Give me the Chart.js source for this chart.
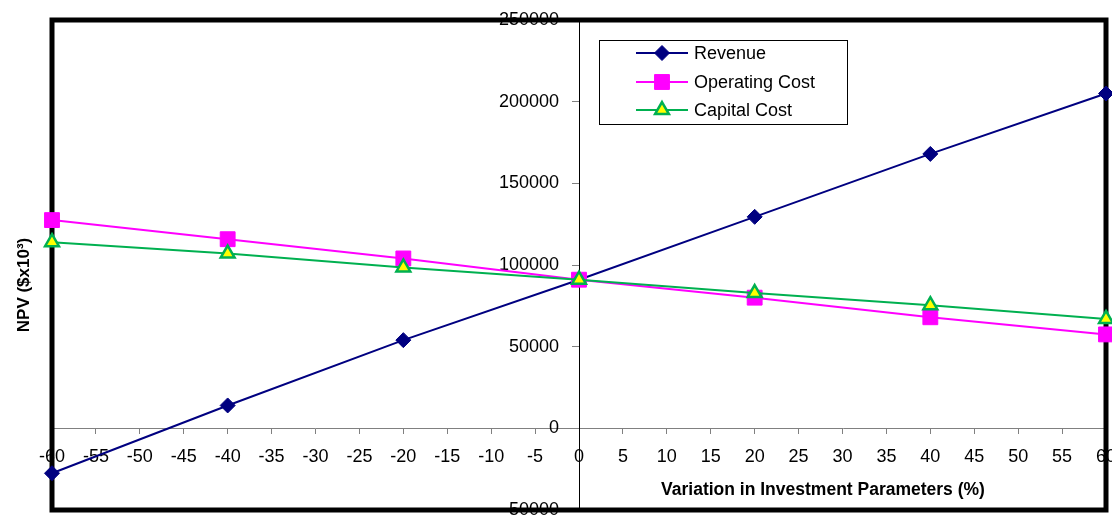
<!DOCTYPE html>
<html>
<head>
<meta charset="utf-8">
<script src="https://cdn.jsdelivr.net/npm/chart.js@4"></script>
<style>
  html, body { margin: 0; padding: 0; background: #fff; }
  #wrap { width: 1112px; height: 516px; }
</style>
</head>
<body>
<div id="wrap"><canvas id="npv"></canvas></div>
<script>
// variation in investment parameters (%)
var variation = [-60, -40, -20, 0, 20, 40, 60]
var revenue = [-27500, 14000, 54000, 91000, 129500, 168000, 205000]
var operating_cost = [127500, 115800, 104000, 91000, 80000, 68000, 57500]
var capital_cost = [114000, 107000, 98500, 91000, 82800, 75400, 67000]

var font_family = "'Liberation Sans', Arial, sans-serif"

function toPoints(values){
    return values.map((v, i) => ({x: variation[i], y: v}))
}

// thick frame round the plot area, under the markers
const framePlugin = {
    id: 'frame',
    beforeDraw(chart) {
        // y labels sit on the axis by default when the axis is positioned by value; push them left
        const items = chart.scales.y.getLabelItems()
        if (!items._shifted) {
            items.forEach(it => { it.options.translation[0] -= 20 })
            items._shifted = true
        }
    },
    beforeDatasetsDraw(chart) {
        const {ctx, chartArea: a} = chart
        ctx.save()
        ctx.strokeStyle = '#000'
        ctx.lineWidth = 5
        ctx.strokeRect(a.left, a.top, a.right - a.left, a.bottom - a.top)
        ctx.restore()
    }
}

// axis titles and the boxed legend
const labelsPlugin = {
    id: 'labels',
    afterDraw(chart) {
        const ctx = chart.ctx
        ctx.save()
        ctx.fillStyle = '#000'
        ctx.font = "bold 17.5px " + font_family
        ctx.textAlign = 'center'
        ctx.textBaseline = 'middle'
        ctx.fillText('Variation in Investment Parameters (%)', 823, 490)

        ctx.font = "bold 17px " + font_family
        ctx.translate(24, 285)
        ctx.rotate(-Math.PI / 2)
        ctx.fillText('NPV ($x10³)', 0, 0)
        ctx.restore()

        // legend
        ctx.save()
        ctx.fillStyle = '#fff'
        ctx.fillRect(599, 40, 248, 84)
        ctx.strokeStyle = '#000'
        ctx.lineWidth = 1
        ctx.strokeRect(599.5, 40.5, 248, 84)
        const rows = [53, 82, 110]
        chart.data.datasets.forEach((ds, i) => {
            const y = rows[i]
            ctx.strokeStyle = ds.borderColor
            ctx.lineWidth = 2
            ctx.beginPath()
            ctx.moveTo(636, y)
            ctx.lineTo(688, y)
            ctx.stroke()
            ctx.fillStyle = ds.pointBackgroundColor
            ctx.strokeStyle = ds.pointBorderColor
            ctx.lineWidth = ds.pointBorderWidth
            Chart.helpers.drawPoint(ctx, {pointStyle: ds.pointStyle, radius: ds.pointRadius, borderWidth: ds.pointBorderWidth}, 662, y)
            ctx.fillStyle = '#000'
            ctx.font = "18px " + font_family
            ctx.textAlign = 'left'
            ctx.textBaseline = 'middle'
            ctx.fillText(ds.label, 694, y + 1)
        })
        ctx.restore()
    }
}

new Chart(document.getElementById('npv').getContext('2d'), {
    type: 'scatter',
    data: {
        datasets: [{
            label: 'Revenue',
            data: toPoints(revenue),
            order: 2,
            showLine: true,
            borderColor: '#000080',
            borderWidth: 2,
            pointStyle: 'rectRot',
            pointRadius: 7.5,
            pointBackgroundColor: '#000080',
            pointBorderColor: '#000080',
            pointBorderWidth: 1,
            clip: false
        }, {
            label: 'Operating Cost',
            data: toPoints(operating_cost),
            order: 1,
            showLine: true,
            borderColor: '#ff00ff',
            borderWidth: 2,
            pointStyle: 'rect',
            pointRadius: 10.5,
            pointBackgroundColor: '#ff00ff',
            pointBorderColor: '#ff00ff',
            pointBorderWidth: 1,
            clip: false
        }, {
            label: 'Capital Cost',
            data: toPoints(capital_cost),
            order: 0,
            showLine: true,
            borderColor: '#00b050',
            borderWidth: 2,
            pointStyle: 'triangle',
            pointRadius: 8,
            pointBackgroundColor: '#ffff00',
            pointBorderColor: '#00b050',
            pointBorderWidth: 2.5,
            clip: false
        }]
    },
    options: {
        responsive: true,
        maintainAspectRatio: false,
        animation: false,
        layout: {autoPadding: false, padding: {left: 52, top: 20, right: 6, bottom: 6}},
        plugins: {
            legend: {display: false},
            tooltip: {enabled: false}
        },
        scales: {
            x: {
                type: 'linear',
                min: -60,
                max: 60,
                position: {y: 0},
                border: {display: true, color: '#808080', width: 1},
                grid: {drawOnChartArea: false, drawTicks: true, tickLength: 5, color: '#808080'},
                ticks: {
                    stepSize: 5,
                    autoSkip: false,
                    maxRotation: 0,
                    padding: 13,
                    color: '#000',
                    font: {family: font_family, size: 18}
                },
                afterFit(scale) {
                    scale.height = 0
                    scale.paddingLeft = 0
                    scale.paddingRight = 0
                }
            },
            y: {
                type: 'linear',
                min: -50000,
                max: 250000,
                position: {x: 0},
                border: {display: true, color: '#000', width: 1},
                grid: {drawOnChartArea: false, drawTicks: true, tickLength: 7, color: '#808080'},
                ticks: {
                    stepSize: 50000,
                    autoSkip: false,
                    color: '#000',
                    font: {family: font_family, size: 18},
                    callback: v => String(v)
                },
                afterFit(scale) {
                    scale.width = 0
                    scale.paddingTop = 0
                    scale.paddingBottom = 0
                }
            }
        }
    },
    plugins: [framePlugin, labelsPlugin]
});
</script>
</body>
</html>
